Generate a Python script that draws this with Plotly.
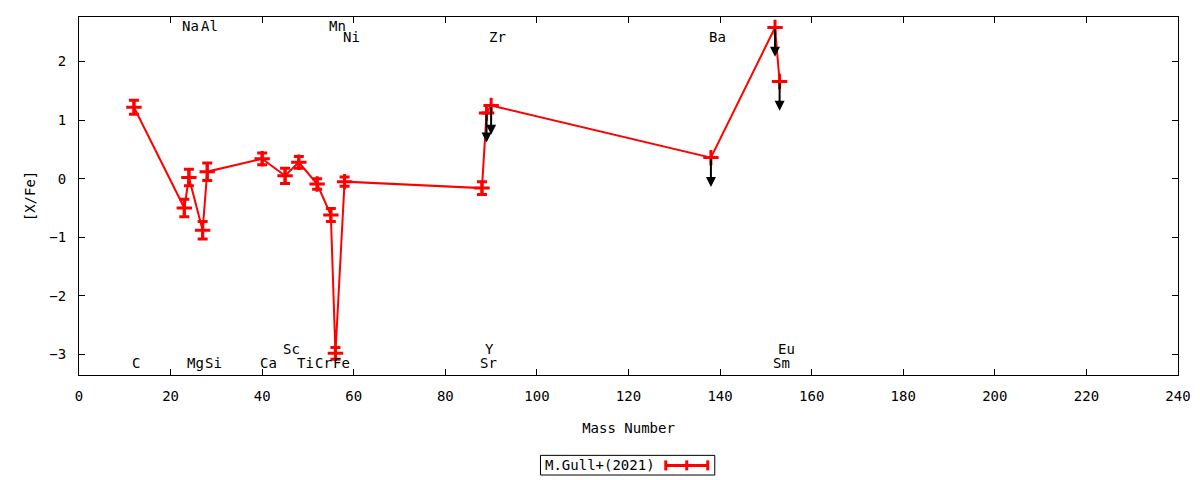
import plotly.graph_objects as go

# abundance pattern, M.Gull+(2021)
elements = ['C', 'Na', 'Mg', 'Al', 'Si', 'Ca', 'Sc', 'Ti', 'Cr', 'Mn', 'Fe', 'Ni',
            'Sr', 'Y', 'Zr', 'Ba', 'Sm', 'Eu']
mass = [12, 23, 24, 27, 28, 40, 45, 48, 52, 55, 56, 58, 88, 89, 90, 138, 152, 153]
x_fe = [1.22, -0.50, 0.02, -0.88, 0.12, 0.34, 0.05, 0.28, -0.09, -0.62, -2.98, -0.05,
        -0.16, 1.12, 1.25, 0.36, 2.58, 1.66]
err = [0.12, 0.15, 0.14, 0.15, 0.15, 0.10, 0.13, 0.10, 0.09, 0.11, 0.10, 0.08,
       0.11, 0.0, 0.0, 0.0, 0.0, 0.0]
upper_limit = [False] * 13 + [True] * 5
# where the element name sits: top row 1/2, bottom row 1/2
label_row = ['b1', 't1', 'b1', 't1', 'b1', 'b1', 'b2', 'b1', 'b1', 't1', 'b1', 't2',
             'b1', 'b2', 't2', 't2', 'b1', 'b2']

row_y = {'t1': 2.6, 't2': 2.42, 'b1': -3.15, 'b2': -2.9}
FONT = 'DejaVu Sans Mono'
FS = 14
RED = '#ff0000'

fig = go.Figure()
fig.add_trace(go.Scatter(
    x=mass, y=x_fe, mode='lines+markers',
    line=dict(color=RED, width=2),
    marker=dict(symbol='cross-thin', size=11, line=dict(color=RED, width=3)),
    error_y=dict(type='data', array=err, visible=True, color=RED, thickness=3, width=5),
    showlegend=False,
))

# upper limit arrows
for m, v, ul in zip(mass, x_fe, upper_limit):
    if ul:
        fig.add_annotation(x=m, y=v - 0.5, ax=m, ay=v, xref='x', yref='y',
                           axref='x', ayref='y', text='', showarrow=True,
                           arrowhead=2, arrowsize=1, arrowwidth=2,
                           arrowcolor='black', standoff=0, startstandoff=0)

# element names
for el, m, r in zip(elements, mass, label_row):
    fig.add_annotation(x=m, y=row_y[r], text=el, showarrow=False, xanchor='left',
                       yanchor='middle', xshift=-4,
                       font=dict(family=FONT, size=FS, color='black'))

# key box drawn by hand (text left of the sample, like gnuplot)
fig.add_shape(type='rect', xref='paper', yref='paper', x0=0.4199, x1=0.5785,
              y0=-0.2794, y1=-0.2245, line=dict(color='black', width=1),
              fillcolor='white')
fig.add_annotation(xref='paper', yref='paper', x=0.5255, y=-0.252, xanchor='right',
                   yanchor='middle', text='M.Gull+(2021)', showarrow=False,
                   font=dict(family=FONT, size=FS, color='black'))
ky = -0.2525
fig.add_shape(type='line', xref='paper', yref='paper', x0=0.5339, x1=0.5721,
              y0=ky, y1=ky, line=dict(color=RED, width=3))
for kx in (0.5339, 0.553, 0.5721):
    fig.add_shape(type='line', xref='paper', yref='paper', x0=kx, x1=kx,
                  y0=ky - 0.014, y1=ky + 0.014, line=dict(color=RED, width=3))

axis_common = dict(showline=True, linecolor='black', linewidth=1, mirror='ticks',
                   ticks='inside', ticklen=6, tickcolor='black', showgrid=False,
                   zeroline=False, automargin=False,
                   tickfont=dict(family=FONT, size=FS, color='black'))
fig.update_xaxes(range=[0, 240], dtick=20, ticklabelstandoff=8,
                 title=dict(text='Mass Number', standoff=20,
                            font=dict(family=FONT, size=FS, color='black')),
                 **axis_common)
fig.update_yaxes(range=[-3.35, 2.76], dtick=1, ticklabelstandoff=9,
                 title=dict(text='[X/Fe]', standoff=10,
                            font=dict(family=FONT, size=FS, color='black')),
                 **axis_common)
# page body adds an 8px offset, so margins are shifted to compensate
fig.update_layout(width=1200, height=480, plot_bgcolor='white', paper_bgcolor='white',
                  margin=dict(l=71, r=30, t=9, b=113), font=dict(family=FONT))
fig.write_html('out.html')
